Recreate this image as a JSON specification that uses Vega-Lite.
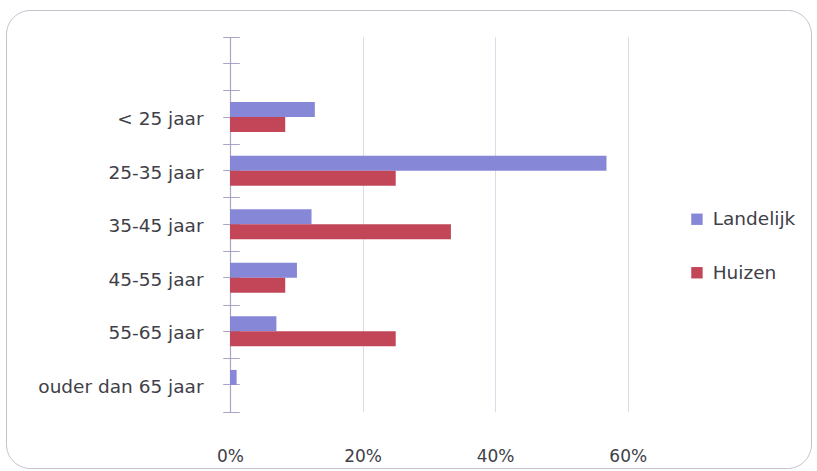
{
  "$schema": "https://vega.github.io/schema/vega-lite/v6.json",
  "width": 805,
  "height": 458,
  "autosize": {"type": "none"},
  "padding": {"left": 6, "top": 10, "right": 6, "bottom": 3},
  "background": "white",
  "config": {
    "view": {"stroke": "#c2c2cc", "strokeWidth": 1, "cornerRadius": 24},
    "font": "DejaVu Sans",
    "axis": {"labelFont": "DejaVu Sans", "labelFontSize": 18.5, "labelColor": "#404048"},
    "legend": {"labelFont": "DejaVu Sans"}
  },
  "data": {
    "values": [
      {"leeftijd": "< 25 jaar", "reeks": "Landelijk", "waarde": 0.128},
      {"leeftijd": "25-35 jaar", "reeks": "Landelijk", "waarde": 0.568},
      {"leeftijd": "35-45 jaar", "reeks": "Landelijk", "waarde": 0.123},
      {"leeftijd": "45-55 jaar", "reeks": "Landelijk", "waarde": 0.101},
      {"leeftijd": "55-65 jaar", "reeks": "Landelijk", "waarde": 0.070},
      {"leeftijd": "ouder dan 65 jaar", "reeks": "Landelijk", "waarde": 0.010},
      {"leeftijd": "< 25 jaar", "reeks": "Huizen", "waarde": 0.0833},
      {"leeftijd": "25-35 jaar", "reeks": "Huizen", "waarde": 0.25},
      {"leeftijd": "35-45 jaar", "reeks": "Huizen", "waarde": 0.3333},
      {"leeftijd": "45-55 jaar", "reeks": "Huizen", "waarde": 0.0833},
      {"leeftijd": "55-65 jaar", "reeks": "Huizen", "waarde": 0.25},
      {"leeftijd": "ouder dan 65 jaar", "reeks": "Huizen", "waarde": 0}
    ]
  },
  "layer": [
    {
      "mark": {"type": "bar"},
      "encoding": {
        "y": {
          "field": "leeftijd",
          "type": "nominal",
          "scale": {
            "domain": [" ", "< 25 jaar", "25-35 jaar", "35-45 jaar", "45-55 jaar", "55-65 jaar", "ouder dan 65 jaar"],
            "range": [26.7, 401.7],
            "paddingInner": 0,
            "paddingOuter": 0
          },
          "axis": {
            "title": null,
            "orient": "left",
            "offset": -233.3,
            "domain": false,
            "grid": false,
            "ticks": true,
            "tickSize": 16.6,
            "tickColor": "#a9a4c8",
            "labelPadding": 19.7,
            "labelOffset": 2
          }
        },
        "yOffset": {
          "field": "reeks",
          "type": "nominal",
          "sort": ["Landelijk", "Huizen"],
          "scale": {"paddingInner": 0, "paddingOuter": 0.786}
        },
        "x": {
          "field": "waarde",
          "type": "quantitative",
          "scale": {"domain": [0, 0.6], "range": [224, 621.7], "nice": false},
          "axis": {
            "title": null,
            "orient": "top",
            "offset": -451,
            "values": [0, 0.2, 0.4, 0.6],
            "format": ".0%",
            "domain": false,
            "ticks": false,
            "grid": true,
            "gridColor": "#dcdce8",
            "gridWidth": 1,
            "labelPadding": 0,
            "labelFlush": false,
            "labelBaseline": "alphabetic",
            "labelFontSize": 17
          }
        },
        "color": {
          "field": "reeks",
          "type": "nominal",
          "sort": ["Landelijk", "Huizen"],
          "scale": {"domain": ["Landelijk", "Huizen"], "range": ["#8787d8", "#c24658"]},
          "legend": {
            "title": null,
            "orient": "none",
            "legendX": 681.7,
            "legendY": 200,
            "padding": 0,
            "symbolType": "square",
            "symbolSize": 130,
            "symbolStrokeWidth": 0,
            "labelFontSize": 18.5,
            "labelColor": "#404048",
            "labelOffset": 6.5,
            "rowPadding": 34.5
          }
        }
      }
    },
    {
      "mark": {"type": "point", "opacity": 0},
      "encoding": {
        "y": {
          "field": "leeftijd",
          "type": "nominal",
          "axis": {
            "title": null,
            "orient": "left",
            "offset": -233.3,
            "tickBand": "extent",
            "domain": false,
            "grid": false,
            "labels": false,
            "ticks": true,
            "tickSize": 16.6,
            "tickColor": "#a9a4c8"
          }
        }
      }
    },
    {
      "mark": {"type": "point", "opacity": 0},
      "encoding": {
        "y": {
          "field": "leeftijd",
          "type": "nominal",
          "axis": {
            "title": null,
            "orient": "left",
            "offset": -224,
            "domain": true,
            "domainColor": "#a9a4c8",
            "domainWidth": 1.2,
            "grid": false,
            "labels": false,
            "ticks": false
          }
        }
      }
    }
  ],
  "resolve": {"axis": {"y": "independent"}}
}
